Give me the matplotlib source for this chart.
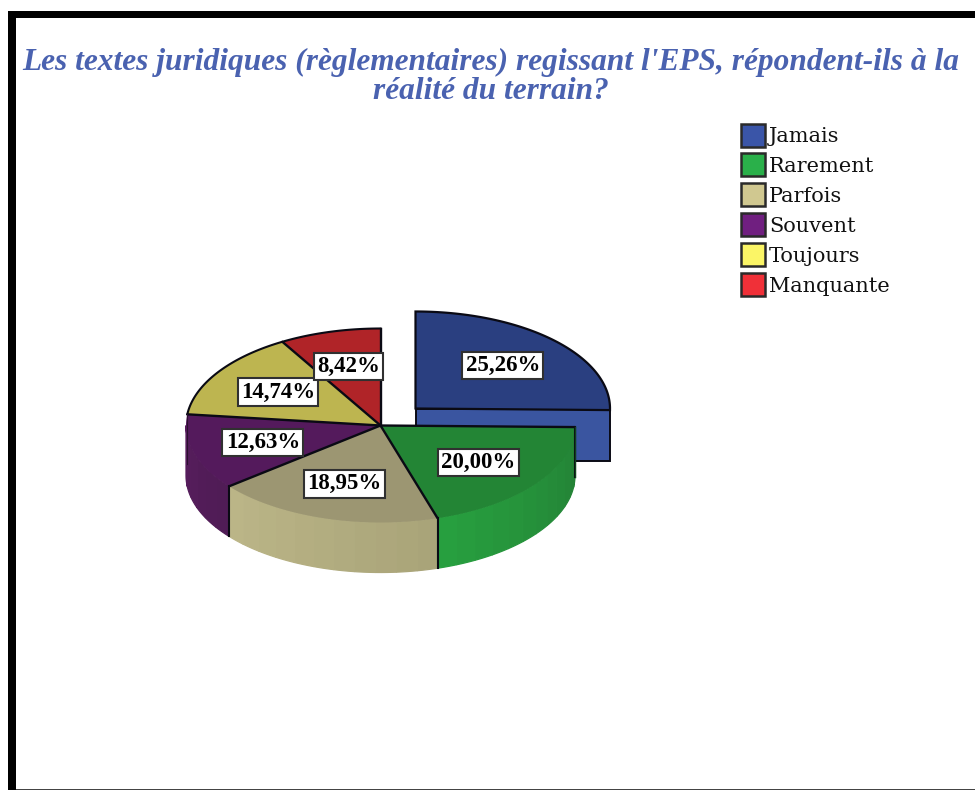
import numpy as np
import matplotlib
matplotlib.use("Agg")
import matplotlib.pyplot as plt
from matplotlib.colors import to_rgb
from matplotlib.patches import Polygon, Rectangle

# ---- data ----
categories = ["Jamais", "Rarement", "Parfois", "Souvent", "Toujours", "Manquante"]
values = [25.26, 20.00, 18.95, 12.63, 14.74, 8.42]
value_labels = ["25,26%", "20,00%", "18,95%", "12,63%", "14,74%", "8,42%"]
title_lines = "Les textes juridiques (règlementaires) regissant l'EPS, répondent-ils à la\nréalité du terrain?"
legend_colors = ["#3a55a8", "#2ab04a", "#d0c890", "#701f80", "#fbf566", "#f03038"]
top_colors = ["#2a3f80", "#238535", "#9c9672", "#541a5c", "#bdb550", "#b02428"]
side_start = ["#3a55a0", "#27a03f", "#bcb688", "#571d5d", "#bdb550", "#b02428"]
side_end = ["#3a55a0", "#237f35", "#a8a378", "#4f1c55", "#bdb550", "#b02428"]

CX, CY, RX, RY, DEPTH = 380.5, 425.5, 194.5, 97.0, 50.0
EX_DX, EX_DY = 35.0, -17.0
LABEL_R = 0.63
EDGE = "#0a0a14"

fig = plt.figure(figsize=(9.75, 7.9), dpi=100, facecolor="white")
ax = fig.add_axes([0, 0, 1, 1])
ax.set_xlim(0, 975)
ax.set_ylim(790, 0)
ax.axis("off")

# page frame
ax.add_patch(Rectangle((8, 11), 8, 779, fc="black", ec="none"))
ax.add_patch(Rectangle((8, 11), 967, 7, fc="black", ec="none"))
ax.add_patch(Rectangle((16, 788.5), 959, 1.5, fc="#444444", ec="none"))

ax.text(491, 77, title_lines, ha="center", va="center", color="#4a62b0",
        fontfamily="Liberation Serif", fontweight="bold", fontstyle="italic",
        fontsize=22.6, linespacing=0.98)


def pts(t0, t1, cx, cy, n=120):
    t = np.radians(np.linspace(t0, t1, n))
    return np.column_stack([cx + RX * np.sin(t), cy - RY * np.cos(t)])


def mix(a, b, f):
    a, b = np.array(to_rgb(a)), np.array(to_rgb(b))
    return tuple(a + (b - a) * f)


edges = np.concatenate([[0], np.cumsum(values)]) * 360.0 / np.sum(values)

# exploded slice: flat cut face, then top
cx0, cy0 = CX + EX_DX, CY + EX_DY
right = pts(edges[1], edges[1], cx0, cy0, 1)[0]
ax.add_patch(Rectangle((cx0, cy0), right[0] - cx0, DEPTH + 2, fc=side_start[0], ec=EDGE, lw=1.4, zorder=2))
top = np.vstack([[[cx0, cy0]], pts(edges[0], edges[1], cx0, cy0)])
ax.add_patch(Polygon(top, closed=True, fc=top_colors[0], ec=EDGE, lw=1.6, zorder=3))

# remaining slices: back to front
order = [5, 4, 3, 2, 1]
for i in order:
    t0, t1 = edges[i], edges[i + 1]
    # rim strips on the visible front half
    a0, a1 = max(t0, 90), min(t1, 270)
    if a1 > a0:
        n = max(int((a1 - a0) / 6), 1)
        bounds = np.linspace(a0, a1, n + 1)
        for k in range(n):
            f = (k + 0.5) / n
            arc = pts(bounds[k], bounds[k + 1], CX, CY, 8)
            strip = np.vstack([arc, arc[::-1] + [0, DEPTH]])
            col = mix(side_end[i], side_start[i], f)
            ax.add_patch(Polygon(strip, closed=True, fc=col, ec=col, lw=0.9, zorder=4 + order.index(i)))
    z = 4 + order.index(i)
    face = np.vstack([[[CX, CY]], pts(t0, t1, CX, CY)])
    ax.add_patch(Polygon(face, closed=True, fc=top_colors[i], ec="none", zorder=z))

# outlines: spokes, back arcs, slice verticals
z_line = 12
for i in [1, 2, 3, 4, 5]:
    p = pts(edges[i], edges[i], CX, CY, 1)[0]
    ax.plot([CX, p[0]], [CY, p[1]], color=EDGE, lw=1.7, zorder=z_line, solid_capstyle="round")
    if 90 < edges[i] < 270:
        ax.plot([p[0], p[0]], [p[1], p[1] + DEPTH], color=EDGE, lw=1.5, zorder=z_line)
ax.plot([CX, CX], [CY, CY - RY], color=EDGE, lw=1.7, zorder=z_line)
back = pts(edges[4], 360, CX, CY)
ax.plot(back[:, 0], back[:, 1], color=EDGE, lw=1.5, zorder=z_line)
rp = pts(91, 91, CX, CY, 1)[0]
ax.plot([rp[0], rp[0]], [rp[1], rp[1] + DEPTH], color="#123f1c", lw=1.0, zorder=z_line)
lp = pts(edges[4], edges[4], CX, CY, 1)[0]
ax.plot([lp[0], lp[0]], [lp[1], lp[1] + DEPTH], color="#2c0f30", lw=0.8, zorder=z_line)

# value labels placed from each slice's mid angle
mids = (edges[:-1] + edges[1:]) / 2
for i, lab in enumerate(value_labels):
    cx = CX + EX_DX if i == 0 else CX
    cy = CY + EX_DY if i == 0 else CY
    a = np.radians(mids[i])
    x = cx + LABEL_R * RX * np.sin(a)
    y = cy - LABEL_R * RY * np.cos(a)
    ax.text(x, y, lab, ha="center", va="center", fontfamily="Liberation Serif",
            fontweight="bold", fontsize=16.5, color="black", zorder=20,
            bbox=dict(boxstyle="square,pad=0.14", fc="white", ec="#303030", lw=1.5))

# legend
for i, (name, col) in enumerate(zip(categories, legend_colors)):
    y = 123.5 + i * 29.8
    ax.add_patch(Rectangle((741, y), 24, 23, fc=col, ec="#2a2a2a", lw=1.8, zorder=5))
    ax.text(769, y + 13.5, name, ha="left", va="center", fontfamily="DejaVu Serif",
            fontsize=15, color="#111111", zorder=5)

fig.savefig("out.png", dpi=100, facecolor="white")
